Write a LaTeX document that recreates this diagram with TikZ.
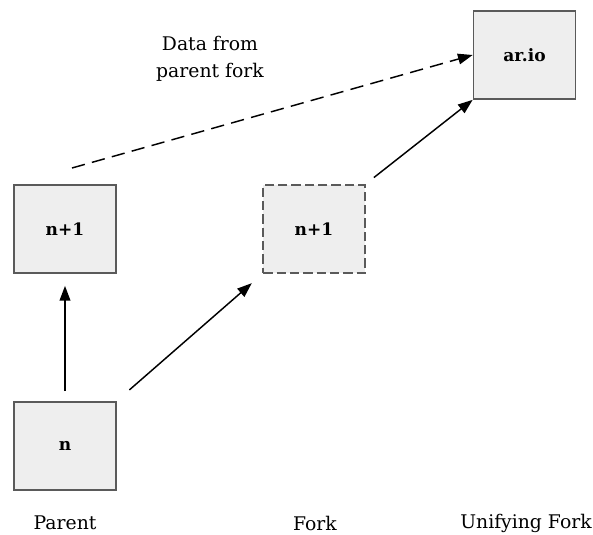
\documentclass[tikz,border=0pt]{standalone}
\usepackage{fontspec}
\setmainfont{DejaVu Serif}
\usetikzlibrary{arrows.meta}
\definecolor{boxfill}{HTML}{EEEEEE}
\definecolor{boxline}{HTML}{5A5A5A}
\tikzset{
  blk/.style={draw=boxline, line width=1.3pt, fill=boxfill, minimum width=76pt, minimum height=66pt, inner sep=0pt, font=\bfseries\fontsize{12.8}{15}\selectfont},
  blkdash/.style={blk, dash pattern=on 7pt off 3pt},
  arr/.style={line width=1.1pt, -{Triangle[length=11pt,width=8pt]}},
  darr/.style={arr, dash pattern=on 10pt off 5.5pt},
  lbl/.style={font=\fontsize{14.1}{20.3}\selectfont, align=center, inner sep=0pt}
}
\begin{document}
\begin{tikzpicture}[x=0.75pt,y=-0.75pt]
\useasboundingbox (0,0) rectangle (593,535);
\node[blk] (n) at (65,446) {n};
\node[blk] (pn1) at (65,229) {n+1};
\node[blkdash] (fn1) at (314,229) {n+1};
\node[blk, minimum width=76.5pt] (ario) at (524.5,55) {ar.io};
\coordinate (ds) at (72,168);
\draw[arr, shorten <=7.5pt, shorten >=9pt] (n.north) -- (pn1.south);
\draw[arr, shorten <=12.8pt, shorten >=10.6pt] (n.north east) -- (fn1.south west);
\draw[arr, shorten <=8pt] (fn1.north east) -- (ario.south west);
\draw[darr] (ds) -- (ario.west);
\node[lbl] (data) at (210,59) {Data from\\parent fork};
\node[lbl] (lp) at (65,523) {Parent};
\node[lbl] (lf) at (315,523) {Fork};
\node[lbl] (lu) at (526,523) {Unifying Fork};
\end{tikzpicture}
\end{document}
